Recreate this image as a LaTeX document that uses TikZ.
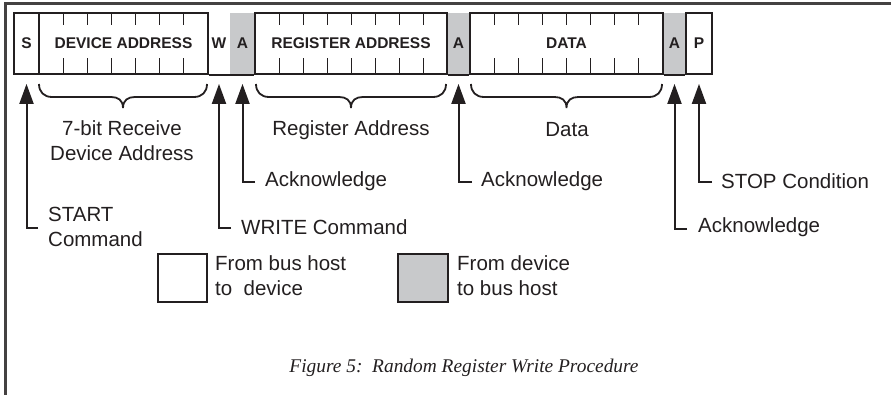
\documentclass[tikz,border=0pt]{standalone}
\usepackage{fontspec}
\setmainfont{Liberation Sans}
\newfontfamily\capfont{Liberation Serif}
\usetikzlibrary{arrows.meta}
\definecolor{ackgray}{HTML}{C8C9CB}
\definecolor{ink}{HTML}{231F20}
\newcommand\fieldbrace[2]{%
 \draw[brace] (#1,84) .. controls (#1,92) and ({#1+5},97) .. ({#1+13},97) -- ({(#1+#2)/2-12},97) .. controls ({(#1+#2)/2-5},97) and ({(#1+#2)/2},100) .. ({(#1+#2)/2},108) .. controls ({(#1+#2)/2},100) and ({(#1+#2)/2+5},97) .. ({(#1+#2)/2+12},97) -- ({#2-13},97) .. controls ({#2-5},97) and (#2,92) .. (#2,84);}
\begin{document}
\begin{tikzpicture}[x=1pt,y=-1pt,
  field/.style={draw=ink, line width=1.8pt, inner sep=0pt, minimum height=61pt, font=\fontsize{15.5}{18}\selectfont\bfseries, text=ink},
  ackfield/.style={field, draw=none, fill=ackgray},
  lbl/.style={inner sep=0pt, font=\fontsize{20.5}{25}\selectfont, text=ink, align=left},
  arr/.style={draw=ink, line width=2pt, -{Triangle[length=20pt,width=14pt]}, shorten >=9pt},
  tick/.style={draw=ink, line width=0.8pt},
  brace/.style={draw=ink, line width=1.8pt},
]
\useasboundingbox (0,0) rectangle (891,395);
\draw[line width=3pt, draw=ink!85] (5,400) -- (5,4) -- (895,4);

% acknowledge (gray) fields
\node[ackfield, minimum width=25pt] (a1) at (242.5,43.5) {A};
\node[ackfield, minimum width=23pt] (a2) at (458.5,43.5) {A};
\node[ackfield, minimum width=23pt] (a3) at (674.5,43.5) {A};
% host fields
\node[field, minimum width=25pt] (s) at (26.5,43.5) {S};
\node[field, minimum width=169pt] (dev) at (123.5,43.5) {DEVICE ADDRESS};
\node[field, draw=none, minimum width=22pt] (w) at (219,43.5) {W};
\node[field, minimum width=192pt] (reg) at (351,43.5) {REGISTER ADDRESS};
\node[field, minimum width=193pt] (dat) at (566.5,43.5) {DATA};
\node[field, minimum width=26pt] (p) at (699,43.5) {P};
\draw[line width=1.8pt, draw=ink] (dev.south east) -- (reg.south west);
\draw[line width=1.8pt, draw=ink] (reg.south east) -- (dat.south west);
\draw[line width=1.8pt, draw=ink] (dat.south east) -- (p.south west);

% bit ticks
\foreach \k in {1,...,6} \draw[tick] ({39+\k*169/7},13) -- ++(0,12) ({39+\k*169/7},74) -- ++(0,-16);
\foreach \k in {1,...,7} \draw[tick] ({255+\k*24},13) -- ++(0,12) ({255+\k*24},74) -- ++(0,-16);
\foreach \k in {1,...,7} \draw[tick] ({470+\k*193/8},13) -- ++(0,12) ({470+\k*193/8},74) -- ++(0,-16);

% braces
\fieldbrace{39}{207}
\fieldbrace{256}{446}
\fieldbrace{471}{662}
\node[lbl, align=center] (devlbl) at (122,141) {7-bit Receive\\Device Address};
\node[lbl] (reglbl) at (351,130) {Register Address};
\node[lbl] (datlbl) at (567,130) {Data};

% pointers
\node[lbl, anchor=west] (start) at (48,226.5) {START\\Command};
\coordinate (cs) at (38,228);
\draw[arr] (cs) -| (s.south);
\node[lbl, anchor=west] (write) at (241,227) {WRITE Command};
\coordinate (cw) at (231,228);
\draw[arr] (cw) -| (w.south);
\node[lbl, anchor=west] (ack1) at (265,181) {Acknowledge};
\coordinate (ca1) at (255,182);
\draw[arr] (ca1) -| (a1.south);
\node[lbl, anchor=west] (ack2) at (481,181) {Acknowledge};
\coordinate (ca2) at (472,182);
\draw[arr] (ca2) -| (a2.south);
\node[lbl, anchor=west] (ack3) at (698,227) {Acknowledge};
\coordinate (ca3) at (687,229);
\draw[arr] (ca3) -| (a3.south);
\node[lbl, anchor=west] (stop) at (721,181) {STOP Condition};
\coordinate (cp) at (712,182);
\draw[arr] (cp) -| (p.south);

% legend
\node[draw=ink, line width=1.8pt, minimum width=49pt, minimum height=48pt, inner sep=0pt] (lw) at (182.5,278) {};
\node[lbl, anchor=west] (lwt) at (215,276) {From bus host\\to\ \ device};
\node[draw=ink, fill=ackgray, line width=1.8pt, minimum width=50pt, minimum height=48pt, inner sep=0pt] (lg) at (423,278) {};
\node[lbl, anchor=west] (lgt) at (457,276) {From device\\to bus host};

% caption
\node[inner sep=0pt, text=ink, font={\capfont\itshape\fontsize{19.4}{22}\selectfont}] (cap) at (464,368) {Figure 5:\ \ Random Register Write Procedure};
\end{tikzpicture}
\end{document}
